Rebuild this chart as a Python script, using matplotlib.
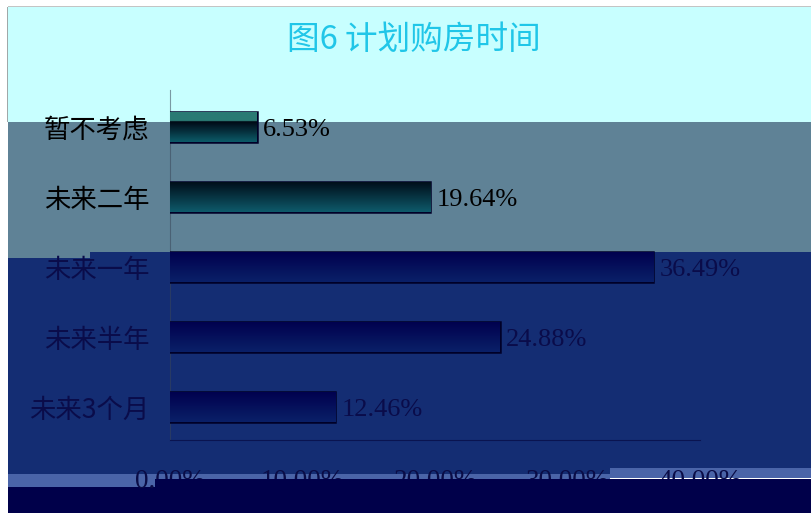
import matplotlib
matplotlib.use("Agg")
import matplotlib.pyplot as plt
from matplotlib.patches import Rectangle
from matplotlib.colors import LinearSegmentedColormap
import numpy as np

# Chart data (top to bottom as shown)
categories = ["暂不考虑", "未来二年", "未来一年", "未来半年", "未来3个月"]
values = [6.53, 19.64, 36.49, 24.88, 12.46]
xticks = [0, 10, 20, 30, 40]
title = "图6 计划购房时间"

W, H = 812, 513
fig = plt.figure(figsize=(W / 100, H / 100), dpi=100)
fig.patch.set_facecolor("white")


# background bands, given in pixel coords of the picture (y from top)
def band(x0, y0, x1, y1, color, z=0):
    r = Rectangle((x0 / W, 1 - y1 / H), (x1 - x0) / W, (y1 - y0) / H,
                  transform=fig.transFigure, facecolor=color, edgecolor="none",
                  zorder=z)
    fig.add_artist(r)


band(8, 6, 812, 7, "#c4c4c4")
band(8, 7, 812, 122, "#c8ffff")
band(7, 7, 8, 122, "#a0a8a8")
band(8, 122, 812, 252, "#5f8296")
band(8, 252, 90, 258, "#5f8296")
band(90, 252, 610, 474, "#142d73")
band(8, 258, 90, 474, "#142d73")
band(610, 252, 812, 468, "#142d73")
band(8, 474, 610, 487, "#4a64a8")
band(610, 468, 812, 478, "#4a64a8")
band(8, 487, 155, 513, "#00004a")

ax = fig.add_axes([170 / W, 1 - 440 / H, 530 / W, 350 / H])
ax.patch.set_alpha(0)

ypos = np.arange(len(categories))[::-1]
bars = ax.barh(ypos, values, height=0.43, color="#000050",
               edgecolor="#000028", linewidth=1.8, zorder=3)

# gradient fills per bar (top color, bottom color)
grad_top = ["#000814", "#000c18", "#00004e", "#00004e", "#00004e"]
grad_bot = ["#0c5a68", "#0e5a6a", "#0a2068", "#0a2068", "#0a2068"]
for i, b in enumerate(bars):
    x, y = b.get_x(), b.get_y()
    w, h = b.get_width(), b.get_height()
    cmap = LinearSegmentedColormap.from_list("g", [grad_top[i], grad_bot[i]])
    g = np.linspace(0, 1, 64).reshape(-1, 1)
    if i == 0:
        # top strip of the first bar sits in the light band
        cmap = LinearSegmentedColormap.from_list(
            "g0", [(0, "#2a7a74"), (0.32, "#2a7a74"), (0.33, grad_top[0]),
                   (1, grad_bot[0])])
    im = ax.imshow(g, extent=[x, x + w, y, y + h], aspect="auto", cmap=cmap,
                   zorder=3, interpolation="bilinear")
    im.set_clip_path(b)

label_cols = ["#000000", "#000000", "#0a0c4a", "#0a0c4a", "#0a0c4a"]
for i, (yy, v) in enumerate(zip(ypos, values)):
    ax.text(v + 0.5, yy - 0.04, "%.2f%%" % v, va="center", ha="left",
            fontsize=19, family=["Liberation Serif"], color=label_cols[i],
            zorder=5)

ax.set_xlim(0, 40)
ax.set_ylim(-0.47, 4.53)
ax.set_yticks(ypos)
ax.set_yticklabels(categories, family=["Noto Sans CJK SC", "DejaVu Sans"],
                   fontsize=19)
for t, c in zip(ax.get_yticklabels(), label_cols):
    t.set_color(c)
ax.set_xticks(xticks)
ax.set_xticklabels(["%.2f%%" % t for t in xticks], family=["Liberation Serif"],
                   fontsize=19.5, color="#0a0c46")
ax.tick_params(axis="y", length=0, pad=15)
ax.tick_params(axis="x", length=0, pad=21)

for s in ["top", "right"]:
    ax.spines[s].set_visible(False)
ax.spines["left"].set_color("#3a4658")
ax.spines["left"].set_alpha(0.55)
ax.spines["bottom"].set_color("#0a1450")

# navy band at the very bottom lies over the tick labels
band(155, 479, 812, 513, "#00004a", z=10)

fig.text(414 / W, 1 - 40 / H, title, ha="center", va="center", fontsize=23.5,
         color="#20c6e8", family=["Noto Sans CJK SC", "DejaVu Sans"])

fig.savefig("out.png", dpi=100)
